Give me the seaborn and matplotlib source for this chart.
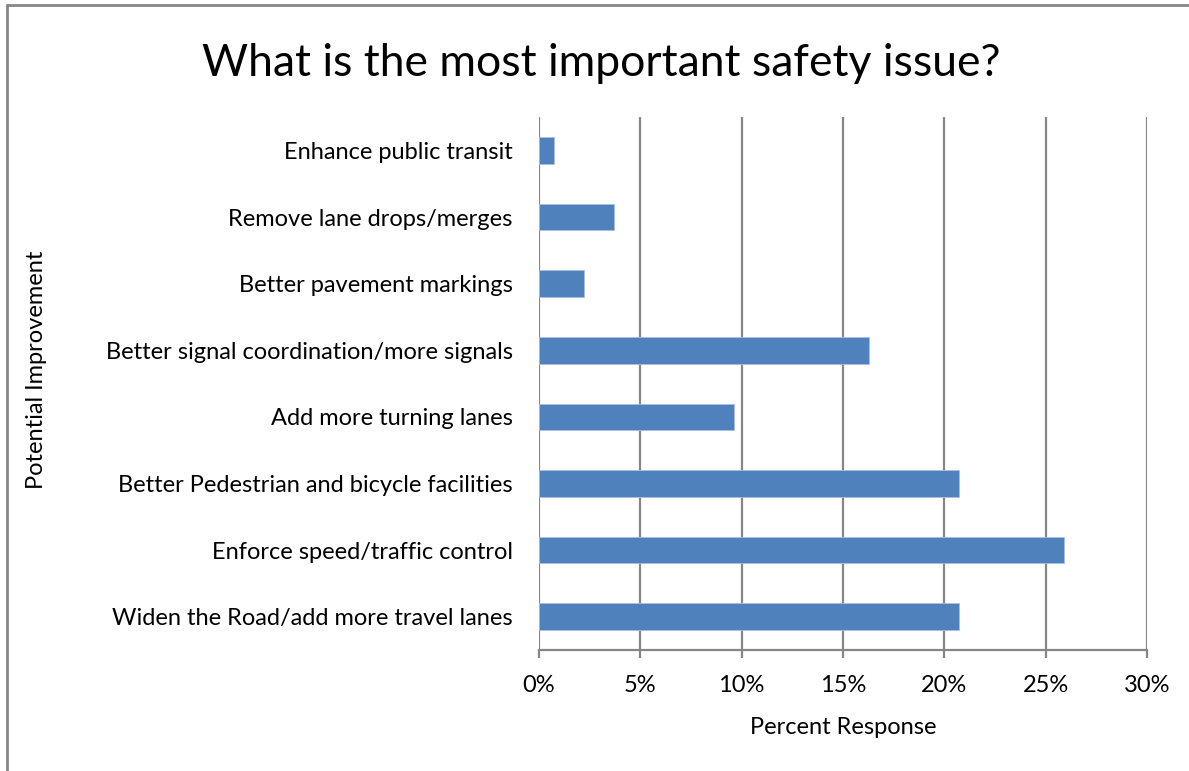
import pandas as pd
import seaborn as sns
import matplotlib.pyplot as plt
from matplotlib.ticker import PercentFormatter
from matplotlib.lines import Line2D

# survey answers, top to bottom as in the chart
improvements = [
    'Enhance public transit',
    'Remove lane drops/merges',
    'Better pavement markings',
    'Better signal coordination/more signals',
    'Add more turning lanes',
    'Better Pedestrian and bicycle facilities',
    'Enforce speed/traffic control',
    'Widen the Road/add more travel lanes',
]
percent = [0.72, 3.7, 2.2, 16.3, 9.6, 20.7, 25.9, 20.7]

data = pd.DataFrame({'improvement': improvements, 'percent': percent})

sns.set_style('white')
plt.rcParams['font.family'] = ['Lato', 'DejaVu Sans']
plt.rcParams['text.color'] = 'black'
plt.rcParams['xtick.color'] = 'black'
plt.rcParams['ytick.color'] = 'black'
plt.rcParams['axes.labelcolor'] = 'black'

fig = plt.figure(figsize=(11.89, 7.71), dpi=100)
ax = fig.add_axes([0.4533, 0.157, 0.5114, 0.691])

sns.barplot(data=data, x='percent', y='improvement', orient='h',
            color='#4F81BD', saturation=1, width=0.4, ax=ax,
            edgecolor='#A9C0E0', linewidth=0.6)

ax.set_xlim(0, 30)
ax.set_ylim(7.5, -0.5)
ax.set_xticks(range(0, 31, 5))
ax.xaxis.set_major_formatter(PercentFormatter(decimals=0))
ax.grid(axis='x', color='#868686', linewidth=1.6)
ax.set_axisbelow(True)
for s in ['top', 'right', 'left']:
    ax.spines[s].set_visible(False)
ax.spines['bottom'].set_color('#868686')
ax.spines['bottom'].set_linewidth(1.6)
ax.tick_params(axis='x', direction='out', length=6, width=1.6, color='#868686',
               labelcolor='black', labelsize=17, pad=12, bottom=True)
ax.tick_params(axis='y', length=0, labelsize=17, pad=19)

ax.set_xlabel('Percent Response', fontsize=17, labelpad=15)
ax.set_ylabel('')
fig.text(0.031, 0.52, 'Potential Improvement', rotation=90, fontsize=17,
         ha='center', va='center')
fig.text(0.506, 0.918, 'What is the most important safety issue?', fontsize=32,
         ha='center', va='center')

# outer frame of the chart area (left and top edges only show)
fig.lines.append(Line2D([0.006, 0.006], [0, 0.994], transform=fig.transFigure,
                        color='#868686', linewidth=2))
fig.lines.append(Line2D([0.006, 1.0], [0.994, 0.994], transform=fig.transFigure,
                        color='#868686', linewidth=2))

plt.savefig('out.png', dpi=100)
plt.close()
